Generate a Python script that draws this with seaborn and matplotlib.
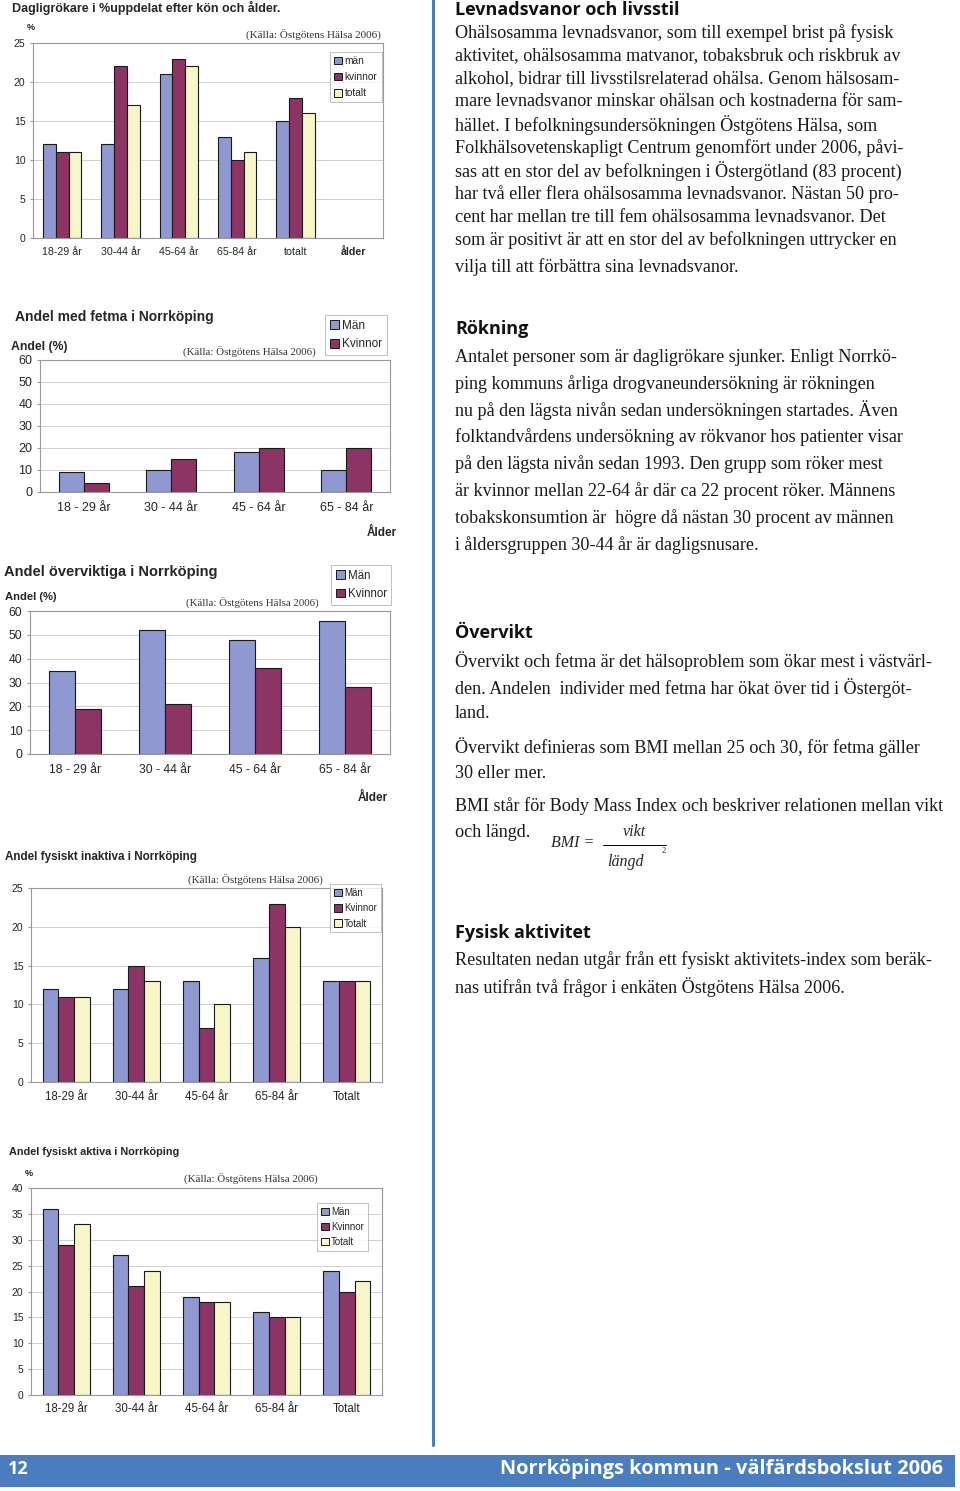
import numpy as np
import pandas as pd
import matplotlib
matplotlib.use("Agg")
import matplotlib.pyplot as plt
import seaborn as sns
from matplotlib.lines import Line2D
from matplotlib.patches import Rectangle

# ---------------- data ----------------
smok_cats = ["18-29 år", "30-44 år", "45-64 år", "65-84 år", "totalt"]
smok_man = [12, 12, 21, 13, 15]
smok_kv = [11, 22, 23, 10, 18]
smok_tot = [11, 17, 22, 11, 16]

fet_cats = ["18 - 29 år", "30 - 44 år", "45 - 64 år", "65 - 84 år"]
fet_man = [9, 10, 18, 10]
fet_kv = [4, 15, 20, 20]

ov_cats = ["18 - 29 år", "30 - 44 år", "45 - 64 år", "65 - 84 år"]
ov_man = [35, 52, 48, 56]
ov_kv = [19, 21, 36, 28]

inak_cats = ["18-29 år", "30-44 år", "45-64 år", "65-84 år", "Totalt"]
inak_man = [12, 12, 13, 16, 13]
inak_kv = [11, 15, 7, 23, 13]
inak_tot = [11, 13, 10, 20, 13]

akt_cats = ["18-29 år", "30-44 år", "45-64 år", "65-84 år", "Totalt"]
akt_man = [36, 27, 19, 16, 24]
akt_kv = [29, 21, 18, 15, 20]
akt_tot = [33, 24, 18, 15, 22]

MAN_C = "#8F98D0"
KV_C = "#8C3463"
TOT_C = "#F8F6C8"
BLUE = "#4A7DC0"

sns.set_style("white")
plt.rcParams["font.family"] = ["Liberation Sans", "DejaVu Sans"]

W, H = 960, 1491
fig = plt.figure(figsize=(W / 100, H / 100), dpi=100)
fig.patch.set_facecolor("white")


def fx(x):
    return x / W


def fy(y):
    return 1 - y / H


def ax_px(l, t, r, b):
    return fig.add_axes([l / W, 1 - b / H, (r - l) / W, (b - t) / H])


def ftext(x, y, s, **kw):
    kw.setdefault("va", "center")
    return fig.text(fx(x), fy(y), s, **kw)


def barchart(rect, cats, series, labels, colors, ymax, ystep, width, xtick_fs,
             ytick_fs, xlab_pad, extra_cat=None, legend_box=None,
             legend_fs=7, legend_sp=0.5):
    ax = ax_px(*rect)
    rows = []
    for lab, vals in zip(labels, series):
        for c, v in zip(cats, vals):
            rows.append((c, lab, v))
    df = pd.DataFrame(rows, columns=["cat", "grp", "val"])
    order = list(cats) + ([extra_cat] if extra_cat else [])
    sns.barplot(data=df, x="cat", y="val", hue="grp", order=order,
                hue_order=labels, palette=colors, width=width,
                edgecolor="#1a1a1a", linewidth=0.8, saturation=1,
                legend=False, ax=ax, errorbar=None)
    n = len(order)
    ax.set_xlim(-0.5, n - 0.5)
    ax.set_ylim(0, ymax)
    ax.set_yticks(range(0, ymax + 1, ystep))
    ax.yaxis.grid(True, color="#CFCFCF", lw=0.7)
    ax.xaxis.grid(False)
    ax.set_axisbelow(True)
    for sp in ax.spines.values():
        sp.set_color("#9A9A9A")
        sp.set_linewidth(0.8)
    ax.set_xlabel("")
    ax.set_ylabel("")
    ax.set_xticks(np.arange(-0.5, n), minor=True)
    ax.tick_params(axis="x", which="major", length=0, labelsize=xtick_fs,
                   pad=xlab_pad)
    ax.tick_params(axis="x", which="minor", length=3, color="#9A9A9A")
    ax.tick_params(axis="y", length=2, color="#9A9A9A", labelsize=ytick_fs,
                   pad=3.5, left=True)
    if legend_box is not None:
        handles = [Rectangle((0, 0), 1, 1, facecolor=c, edgecolor="#1a1a1a",
                             lw=0.7) for c in colors]
        l, t = legend_box
        leg = ax.legend(handles, labels, loc="upper left",
                        bbox_to_anchor=(fx(l), fy(t)),
                        bbox_transform=fig.transFigure, fontsize=legend_fs,
                        frameon=True, fancybox=False, handlelength=0.8,
                        handleheight=0.8, handletextpad=0.25,
                        labelspacing=legend_sp, borderpad=0.4, borderaxespad=0)
        leg.get_frame().set_edgecolor("#B0B0B0")
        leg.get_frame().set_linewidth(0.7)
    return ax


SRC = "(Källa: Östgötens Hälsa 2006)"
SERIF = ["Liberation Serif", "DejaVu Serif"]

# ---------- Chart 1: Dagligrökare ----------
ax1 = barchart((33, 43, 383, 238), smok_cats, [smok_man, smok_kv, smok_tot],
               ["män", "kvinnor", "totalt"], [MAN_C, KV_C, TOT_C], 25, 5, 0.66,
               7.7, 7.5, 6.5, extra_cat="ålder", legend_box=(330, 52),
               legend_fs=7.3, legend_sp=0.6)
for lbl in ax1.get_xticklabels():
    if lbl.get_text() == "ålder":
        lbl.set_fontweight("bold")
ftext(12, 8, "Dagligrökare i %uppdelat efter kön och ålder.", fontsize=9,
      fontweight="bold")
ftext(27, 27, "%", fontsize=6.5, fontweight="bold")
ftext(381, 35, SRC, fontsize=8, ha="right", family=SERIF, color="#333333")

# ---------- Chart 2: fetma ----------
ax2 = barchart((40, 360, 390, 492), fet_cats, [fet_man, fet_kv],
               ["Män", "Kvinnor"], [MAN_C, KV_C], 60, 10, 0.57, 9, 9, 7.5,
               legend_box=(325, 315), legend_fs=8.5, legend_sp=0.55)
ftext(15, 317, "Andel med fetma i Norrköping", fontsize=10, fontweight="bold")
ftext(11, 347, "Andel (%)", fontsize=8.8, fontweight="bold")
ftext(316, 352, SRC, fontsize=7.8, ha="right", family=SERIF, color="#333333")
ftext(382, 533, "Ålder", fontsize=8.5, ha="center", fontweight="bold")

# ---------- Chart 3: övervikt ----------
ax3 = barchart((30, 611, 390, 754), ov_cats, [ov_man, ov_kv],
               ["Män", "Kvinnor"], [MAN_C, KV_C], 60, 10, 0.58, 8.7, 8.7, 7.5,
               legend_box=(331, 565), legend_fs=8.3, legend_sp=0.55)
ftext(4, 572, "Andel överviktiga i Norrköping", fontsize=10.5, fontweight="bold")
ftext(5, 597, "Andel (%)", fontsize=8.1, fontweight="bold")
ftext(319, 603, SRC, fontsize=7.8, ha="right", family=SERIF, color="#333333")
ftext(373, 798, "Ålder", fontsize=8.5, ha="center", fontweight="bold")

# ---------- Chart 4: fysiskt inaktiva ----------
ax4 = barchart((31, 888, 382, 1082), inak_cats, [inak_man, inak_kv, inak_tot],
               ["Män", "Kvinnor", "Totalt"], [MAN_C, KV_C, TOT_C], 25, 5, 0.67,
               8.3, 7.5, 6.5, legend_box=(330, 884), legend_fs=7,
               legend_sp=0.55)
ftext(5, 857, "Andel fysiskt inaktiva i Norrköping", fontsize=8.4,
      fontweight="bold")
ftext(323, 880, SRC, fontsize=8, ha="right", family=SERIF, color="#333333")

# ---------- Chart 5: fysiskt aktiva ----------
ax5 = barchart((31, 1188, 382, 1395), akt_cats, [akt_man, akt_kv, akt_tot],
               ["Män", "Kvinnor", "Totalt"], [MAN_C, KV_C, TOT_C], 40, 5, 0.67,
               8.3, 7.5, 5.5, legend_box=(317, 1203), legend_fs=7,
               legend_sp=0.5)
ftext(9, 1152, "Andel fysiskt aktiva i Norrköping", fontsize=7.8, fontweight="bold")
ftext(25, 1173, "%", fontsize=6.5, fontweight="bold")
ftext(318, 1179, SRC, fontsize=7.9, ha="right", family=SERIF, color="#333333")

# ---------- right column text ----------
HEAD = dict(fontsize=13, fontweight="bold", family=["Open Sans", "DejaVu Sans"],
            color="#111111")
BODY = dict(fontsize=13.1, family=SERIF, color="#1a1a1a")
X0 = 455

ftext(X0, 10, "Levnadsvanor och livsstil", **HEAD)
sec1 = [
    "Ohälsosamma levnadsvanor, som till exempel brist på fysisk",
    "aktivitet, ohälsosamma matvanor, tobaksbruk och riskbruk av",
    "alkohol, bidrar till livsstilsrelaterad ohälsa. Genom hälsosam-",
    "mare levnadsvanor minskar ohälsan och kostnaderna för sam-",
    "hället. I befolkningsundersökningen Östgötens Hälsa, som",
    "Folkhälsovetenskapligt Centrum genomfört under 2006, påvi-",
    "sas att en stor del av befolkningen i Östergötland (83 procent)",
    "har två eller flera ohälsosamma levnadsvanor. Nästan 50 pro-",
    "cent har mellan tre till fem ohälsosamma levnadsvanor. Det",
    "som är positivt är att en stor del av befolkningen uttrycker en",
    "vilja till att förbättra sina levnadsvanor.",
]
sec1_y = [33, 56, 79, 102, 125, 148, 171, 194, 217, 240, 267]
for s, y in zip(sec1, sec1_y):
    ftext(X0, y, s, **BODY)

ftext(X0, 329, "Rökning", **HEAD)
sec2 = [
    "Antalet personer som är dagligrökare sjunker. Enligt Norrkö-",
    "ping kommuns årliga drogvaneundersökning är rökningen",
    "nu på den lägsta nivån sedan undersökningen startades. Även",
    "folktandvårdens undersökning av rökvanor hos patienter visar",
    "på den lägsta nivån sedan 1993. Den grupp som röker mest",
    "är kvinnor mellan 22-64 år där ca 22 procent röker. Männens",
    "tobakskonsumtion är  högre då nästan 30 procent av männen",
    "i åldersgruppen 30-44 år är dagligsnusare.",
]
sec2_y = [357, 384, 410, 437, 464, 491, 518, 545]
for s, y in zip(sec2, sec2_y):
    ftext(X0, y, s, **BODY)

ftext(X0, 633, "Övervikt", **HEAD)
sec3 = [
    "Övervikt och fetma är det hälsoproblem som ökar mest i västvärl-",
    "den. Andelen  individer med fetma har ökat över tid i Östergöt-",
    "land.",
    "Övervikt definieras som BMI mellan 25 och 30, för fetma gäller",
    "30 eller mer.",
    "BMI står för Body Mass Index och beskriver relationen mellan vikt",
    "och längd.",
]
sec3_y = [661, 688, 714, 747, 774, 806, 833]
for s, y in zip(sec3, sec3_y):
    ftext(X0, y, s, **BODY)

# BMI formula
ftext(551, 843, "BMI =", fontsize=11.5, family=SERIF, style="italic")
ftext(634, 832, "vikt", fontsize=11.5, family=SERIF, style="italic", ha="center")
ftext(625, 862, "längd", fontsize=11.5, family=SERIF, style="italic", ha="center")
ftext(662, 851, "2", fontsize=6, family=SERIF)
fig.add_artist(Line2D([fx(603), fx(666)], [fy(845), fy(845)], color="black",
                      lw=0.7, transform=fig.transFigure))

ftext(X0, 933, "Fysisk aktivitet", **HEAD)
sec4 = [
    "Resultaten nedan utgår från ett fysiskt aktivitets-index som beräk-",
    "nas utifrån två frågor i enkäten Östgötens Hälsa 2006.",
]
for s, y in zip(sec4, [960, 987]):
    ftext(X0, y, s, **BODY)

# vertical divider
fig.add_artist(Line2D([fx(433), fx(433)], [fy(0), fy(1445)], color=BLUE,
                      lw=2.2, transform=fig.transFigure))

# footer band
fig.add_artist(Rectangle((fx(0), fy(1487)), fx(955), (1487 - 1455) / H,
                         facecolor=BLUE, edgecolor="none",
                         transform=fig.transFigure))
ftext(8, 1469, "12", fontsize=13, fontweight="bold", color="white",
      family=["Open Sans", "DejaVu Sans"])
ftext(943, 1469, "Norrköpings kommun - välfärdsbokslut 2006", fontsize=14.4,
      fontweight="bold", color="white", ha="right",
      family=["Open Sans", "DejaVu Sans"])

fig.savefig("out.png", dpi=100, facecolor="white")
